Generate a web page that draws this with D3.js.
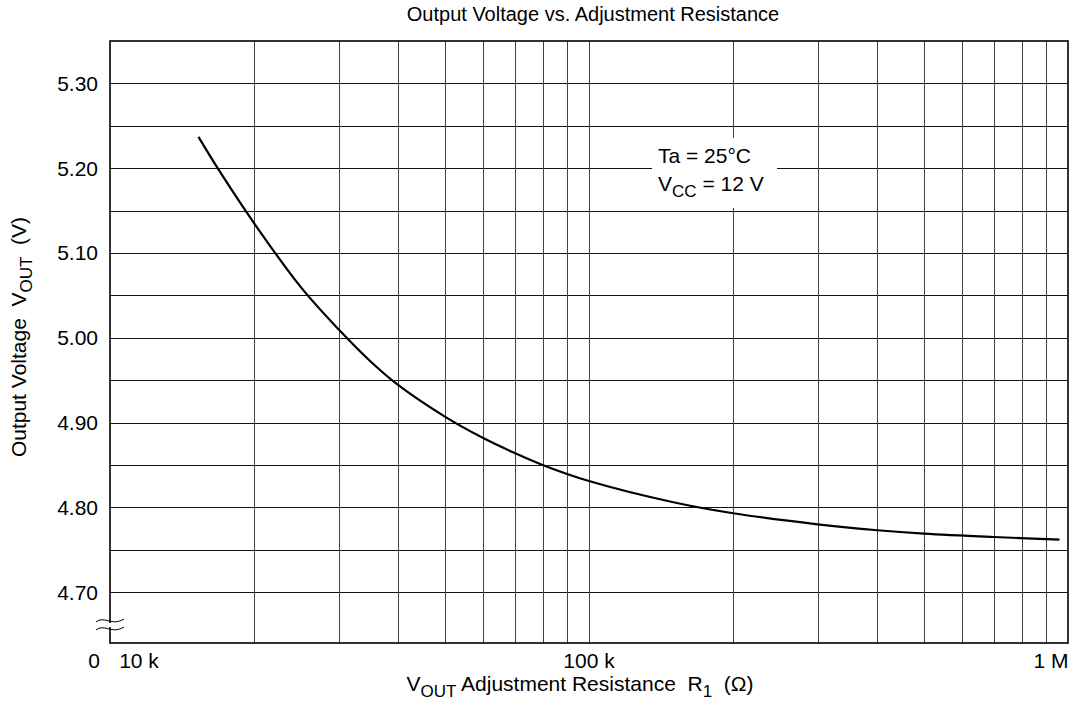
<!DOCTYPE html>
<html>
<head>
<meta charset="utf-8">
<script src="https://cdn.jsdelivr.net/npm/d3@7"></script>
<style>
  body { margin: 0; background: #fff; }
  text { font-family: "Liberation Sans", Arial, sans-serif; fill: #000; white-space: pre; }
</style>
</head>
<body>
<div id="chart"></div>
<script>
// values (R1 in ohms, VOUT in volts)
const resistance = [15300, 17000, 20000, 25000, 30000, 35000, 40000, 50000, 60000, 70000, 80000,
  100000, 150000, 200000, 300000, 400000, 500000, 700000, 960000];
const voltage = [5.237, 5.195, 5.135, 5.060, 5.010, 4.972, 4.944, 4.907, 4.882, 4.864, 4.850,
  4.831, 4.806, 4.793, 4.780, 4.773, 4.769, 4.765, 4.762];

const yTicks = [4.70, 4.80, 4.90, 5.00, 5.10, 5.20, 5.30];
const yGrid = d3.range(4.70, 5.301, 0.05);
const xGrid = [20e3, 30e3, 40e3, 50e3, 60e3, 70e3, 80e3, 90e3, 100e3,
  200e3, 300e3, 400e3, 500e3, 600e3, 700e3, 800e3, 900e3];
const xLabels = [
  { v: 10e3, t: "10 k", dx: 29 },
  { v: 100e3, t: "100 k", dx: 0 },
  { v: 1e6, t: "1 M", dx: -17 }
];

const W = 1082, H = 708;
const margin = { top: 41, left: 110, right: 14, bottom: 65 };
const fs = 21;

const svg = d3.select("#chart").append("svg")
  .attr("width", W).attr("height", H);

const x = d3.scaleLog().domain([10e3, 1e6]).range([margin.left, W - margin.right]);
const y = d3.scaleLinear().domain([4.64, 5.35]).range([H - margin.bottom, margin.top]);

// grid
svg.append("g").selectAll("line").data(yGrid).enter().append("line")
  .attr("x1", x(10e3)).attr("x2", x(1e6))
  .attr("y1", d => Math.round(y(d)) + 0.5).attr("y2", d => Math.round(y(d)) + 0.5)
  .attr("stroke", "#111").attr("stroke-width", 1);

svg.append("g").selectAll("line").data(xGrid).enter().append("line")
  .attr("x1", d => Math.round(x(d)) + 0.5).attr("x2", d => Math.round(x(d)) + 0.5)
  .attr("y1", y(5.35)).attr("y2", y(4.64))
  .attr("stroke", "#444").attr("stroke-width", 1);

// annotation with white backing
const note = svg.append("g");
note.append("rect")
  .attr("x", 652).attr("y", 138).attr("width", 125).attr("height", 70)
  .attr("fill", "#fff");
note.append("text").attr("x", 658).attr("y", 163).attr("font-size", fs)
  .text("Ta = 25°C");
const vcc = note.append("text").attr("x", 658).attr("y", 191).attr("font-size", fs);
vcc.append("tspan").text("V");
vcc.append("tspan").attr("dy", 6).attr("font-size", 17).text("CC");
vcc.append("tspan").attr("dy", -6).text(" = 12 V");

// curve
const pts = resistance.map((r, i) => [r, voltage[i]]);
svg.append("path")
  .datum(pts)
  .attr("fill", "none").attr("stroke", "#000").attr("stroke-width", 2.2)
  .attr("d", d3.line().x(d => x(d[0])).y(d => y(d[1])).curve(d3.curveCatmullRom));

// frame
svg.append("rect")
  .attr("x", x(10e3)).attr("y", y(5.35))
  .attr("width", x(1e6) - x(10e3)).attr("height", y(4.64) - y(5.35))
  .attr("fill", "none").attr("stroke", "#000").attr("stroke-width", 1.6);

// axis break mark
const bx = x(10e3), by = 622;
[0, 8].forEach(off => {
  svg.append("path")
    .attr("d", `M${bx - 14},${by + off} C${bx - 6},${by + off - 7} ${bx + 2},${by + off + 5} ${bx + 14},${by + off - 3}`)
    .attr("fill", "none").attr("stroke", "#000").attr("stroke-width", 1);
});
svg.append("rect").attr("x", bx - 1).attr("y", by + 1).attr("width", 2).attr("height", 4).attr("fill", "#fff");

// y tick labels
svg.append("g").selectAll("text").data(yTicks).enter().append("text")
  .attr("x", 98).attr("y", d => y(d) + 7.5)
  .attr("text-anchor", "end").attr("font-size", fs)
  .text(d => d.toFixed(2));

// x tick labels
svg.append("text").attr("x", 94).attr("y", 668)
  .attr("text-anchor", "middle").attr("font-size", fs).text("0");
svg.append("g").selectAll("text").data(xLabels).enter().append("text")
  .attr("x", d => x(d.v) + d.dx).attr("y", 668)
  .attr("text-anchor", "middle").attr("font-size", fs)
  .text(d => d.t);

// title
svg.append("text").attr("x", 593).attr("y", 21)
  .attr("text-anchor", "middle").attr("font-size", 20)
  .text("Output Voltage vs. Adjustment Resistance");

// x axis label
const xl = svg.append("text").attr("x", 580).attr("y", 691)
  .attr("text-anchor", "middle").attr("font-size", fs);
xl.append("tspan").text("V");
xl.append("tspan").attr("dy", 6).attr("font-size", 17).text("OUT");
xl.append("tspan").attr("dy", -6).text(" Adjustment Resistance  R");
xl.append("tspan").attr("dy", 6).attr("font-size", 17).text("1");
xl.append("tspan").attr("dy", -6).text("  (Ω)");

// y axis label
const yl = svg.append("text")
  .attr("transform", "translate(26," + 337 + ")rotate(-90)")
  .attr("text-anchor", "middle").attr("font-size", fs);
yl.append("tspan").text("Output Voltage  V");
yl.append("tspan").attr("dy", 6).attr("font-size", 17).text("OUT");
yl.append("tspan").attr("dy", -6).text("  (V)");
</script>
</body>
</html>
